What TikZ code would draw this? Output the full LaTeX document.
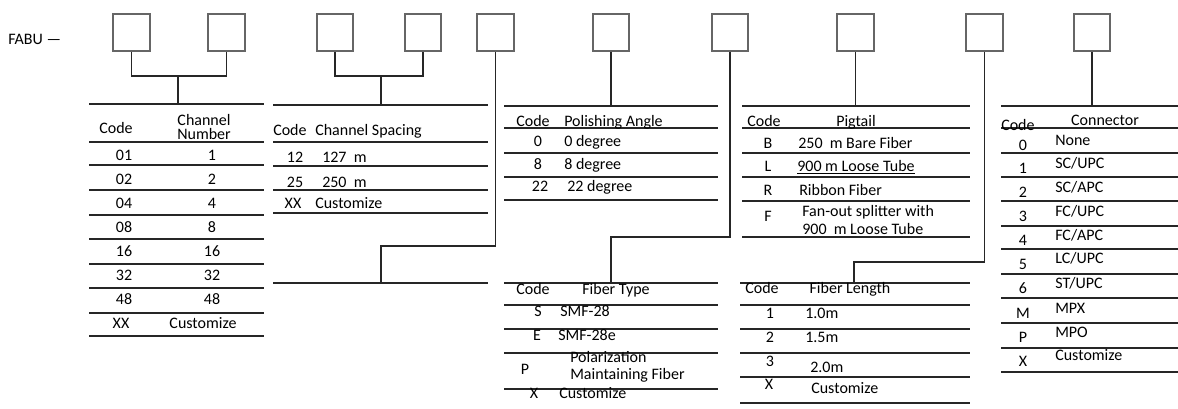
\documentclass[tikz,border=0pt]{standalone}
\usepackage{fontspec}
\setmainfont{Carlito}

\tikzset{
  codebox/.style={draw=black!60, line width=1.5pt, minimum size=27.5pt, inner sep=0pt},
  rule/.style={line width=1.4pt, black!85},
  link/.style={line width=1.1pt, black!85},
  txt/.style={inner sep=0pt, text height=7.7pt, text depth=0pt,
    font=\fontsize{12}{13}\selectfont},
  lt/.style={txt, anchor=west}
}

\begin{document}
\begin{tikzpicture}[x=0.75pt,y=-0.75pt]

  \useasboundingbox (0,0) rectangle (1178,409);

  % ----------------------------------------------------------------
  % Code boxes
  % ----------------------------------------------------------------
  \node[lt] (fabu) at (8,39) {FABU —};
  \foreach \n/\x in {1/131.5,2/226.5,3/335,4/423,5/495.5,6/611,7/730,8/855.5,9/984.5,10/1092}{
    \node[codebox] (b\n) at (\x,32.5) {};
  }

  % join points and table tops
  \coordinate (j12) at (178,76);
  \coordinate (t1)  at (178,104);
  \coordinate (j34) at (381,76);
  \coordinate (t2)  at (381,105);
  \coordinate (k5)  at (381,246);
  \coordinate (e5)  at (381,283);
  \coordinate (t3)  at (611,106);
  \coordinate (k7)  at (611,237);
  \coordinate (t6)  at (611,283);
  \coordinate (t4)  at (855.5,106);
  \coordinate (k9)  at (854,262);
  \coordinate (t7)  at (854,283);
  \coordinate (t5)  at (1092,106);

  % connectors
  \draw[link] (b1.south) |- (j12) -| (b2.south);
  \draw[link] (j12) -- (t1);
  \draw[link] (b3.south) |- (j34) -| (b4.south);
  \draw[link] (j34) -- (t2);
  \draw[link] (b5.south) |- (k5) -- (e5);
  \draw[link] (b6.south) -- (t3);
  \draw[link] (b7.south) |- (k7) -- (t6);
  \draw[link] (b8.south) -- (t4);
  \draw[link] (b9.south) |- (k9) -- (t7);
  \draw[link] (b10.south) -- (t5);

  % ----------------------------------------------------------------
  % Table 1: channel number
  % ----------------------------------------------------------------
  \foreach \y in {104,142,165,190,215,239,264,288,313,336}{
    \draw[rule] (89,\y) -- (264,\y);
  }
  \node[txt] (h1c) at (116,128) {Code};
  \node[txt] (h1v) at (204,120) {Channel};
  \node[txt] (h1w) at (204,134) {Number};
  \foreach \r/\c/\v in {1/01/1, 2/02/2, 3/04/4, 4/08/8, 5/16/16, 6/32/32, 7/48/48}{
    \node[txt] (c1\r) at (124,{131+24*\r}) {\c};
    \node[txt] (v1\r) at (212,{131+24*\r}) {\v};
  }
  \node[txt] (c18) at (121,323) {XX};
  \node[txt] (v18) at (203,323) {Customize};

  % ----------------------------------------------------------------
  % Table 2: channel spacing
  % ----------------------------------------------------------------
  \foreach \y in {105,142,166,190,213,283}{
    \draw[rule] (273,\y) -- (488,\y);
  }
  \node[lt]  (h2c) at (273,130) {Code};
  \node[lt]  (h2v) at (315,130) {Channel Spacing};
  \node[txt] (c21) at (295,157) {12};
  \node[lt]  (v21) at (322,157) {127~~m};
  \node[txt] (c22) at (295,182) {25};
  \node[lt]  (v22) at (322,182) {250~~m};
  \node[txt] (c23) at (293,203) {XX};
  \node[lt]  (v23) at (315,203) {Customize};

  % ----------------------------------------------------------------
  % Table 3: polishing angle
  % ----------------------------------------------------------------
  \foreach \y in {106,128,153,177,200}{
    \draw[rule] (504,\y) -- (718,\y);
  }
  \node[txt] (h3c) at (533,121) {Code};
  \node[lt]  (h3v) at (564,121) {Polishing Angle};
  \node[txt] (c31) at (538,141) {0};
  \node[lt]  (v31) at (564,141) {0 degree};
  \node[txt] (c32) at (538,164) {8};
  \node[lt]  (v32) at (564,164) {8 degree};
  \node[txt] (c33) at (540,186) {22};
  \node[lt]  (v33) at (567,186) {22 degree};

  % ----------------------------------------------------------------
  % Table 4: pigtail
  % ----------------------------------------------------------------
  \foreach \y in {106,128,153,177,201,237}{
    \draw[rule] (742,\y) -- (970,\y);
  }
  \node[txt] (h4c) at (764,121) {Code};
  \node[txt] (h4v) at (856,121) {Pigtail};
  \node[txt] (c41) at (768,143) {B};
  \node[lt]  (v41) at (798,143) {250~~m Bare Fiber};
  \node[txt] (c42) at (768,166) {L};
  \node[lt]  (v42) at (797,166) {\underline{900 m Loose Tube}};
  \node[txt] (c43) at (768,190) {R};
  \node[lt]  (v43) at (799,190) {Ribbon Fiber};
  \node[txt] (c44) at (768,216) {F};
  \node[lt]  (v44) at (802,211) {Fan-out splitter with};
  \node[lt]  (w44) at (802,229) {900~~m Loose Tube};

  % ----------------------------------------------------------------
  % Table 5: connector
  % ----------------------------------------------------------------
  \foreach \y in {106,128,153,177,201,226,249,274,298,323,348,372}{
    \draw[rule] (1001,\y) -- (1178,\y);
  }
  \node[lt]  (h5c) at (1001,125) {Code};
  \node[txt] (h5v) at (1105,120) {Connector};
  \foreach \r/\c/\v/\yc/\yv in {%
    1/0/None/145/140,
    2/1/SC\slash UPC/168/163,
    3/2/SC\slash APC/192/187,
    4/3/FC\slash UPC/216/211,
    5/4/FC\slash APC/240/235,
    6/5/LC\slash UPC/264/258,
    7/6/ST\slash UPC/288/283,
    8/M/MPX/313/308,
    9/P/MPO/337/332,
    10/X/Customize/361/355}{
    \node[txt] (c5\r) at (1023,\yc) {\c};
    \node[lt]  (v5\r) at (1055,\yv) {\v};
  }

  % ----------------------------------------------------------------
  % Table 6: fiber type
  % ----------------------------------------------------------------
  \foreach \y in {283,305,329,353,389}{
    \draw[rule] (504,\y) -- (718,\y);
  }
  \node[txt] (h6c) at (533,289) {Code};
  \node[txt] (h6v) at (616,289) {Fiber Type};
  \node[txt] (c61) at (538,311) {S};
  \node[lt]  (v61) at (560,311) {SMF-28};
  \node[txt] (c62) at (537,335) {E};
  \node[lt]  (v62) at (558,335) {SMF-28e};
  \node[txt] (c63) at (525,369) {P};
  \node[lt]  (v63) at (570,357) {Polarization};
  \node[lt]  (w63) at (570,374) {Maintaining Fiber};
  \node[txt] (c64) at (534,393) {X};
  \node[lt]  (v64) at (559,393) {Customize};

  % ----------------------------------------------------------------
  % Table 7: fiber length
  % ----------------------------------------------------------------
  \foreach \y in {283,305,329,353,377,403}{
    \draw[rule] (740,\y) -- (970,\y);
  }
  \node[txt] (h7c) at (762,288) {Code};
  \node[txt] (h7v) at (850,288) {Fiber Length};
  \node[txt] (c71) at (770,313) {1};
  \node[lt]  (v71) at (805,313) {1.0m};
  \node[txt] (c72) at (770,337) {2};
  \node[lt]  (v72) at (805,337) {1.5m};
  \node[txt] (c73) at (770,361) {3};
  \node[lt]  (v73) at (810,367) {2.0m};
  \node[txt] (c74) at (769,384) {X};
  \node[lt]  (v74) at (811,388) {Customize};

\end{tikzpicture}
\end{document}
